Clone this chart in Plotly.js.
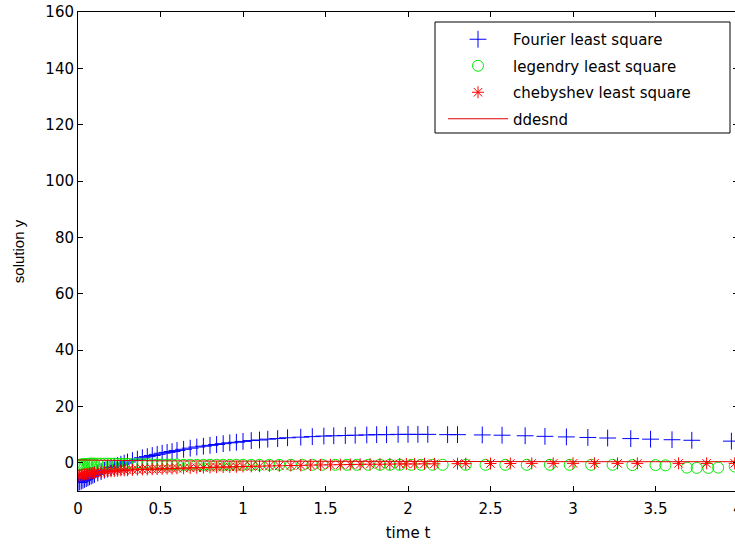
<!DOCTYPE html>
<html>
<head>
<meta charset="utf-8">
<script src="https://cdn.plot.ly/plotly-3.0.1.min.js"></script>
<style>
html, body { margin: 0; padding: 0; overflow: hidden; background: #fff; }
#chart { width: 745px; height: 544px; }
</style>
</head>
<body>
<div id="chart"></div>
<script>
// ---- data ----
const seriesNames = ["Fourier least square", "legendry least square", "chebyshev least square", "ddesnd"];

const fourierT = [0.00,0.01,0.02,0.03,0.04,0.05,0.06,0.07,0.08,0.09,0.10,0.12,0.14,0.16,0.18,0.20,0.22,0.24,0.26,0.28,0.30,0.33,0.36,0.39,0.42,0.45,0.48,0.51,0.54,0.57,0.60,0.64,0.68,0.72,0.76,0.80,0.84,0.88,0.92,0.96,1.00,1.05,1.10,1.15,1.21,1.27,1.35,1.42,1.49,1.55,1.62,1.68,1.75,1.81,1.87,1.94,2.00,2.06,2.12,2.24,2.30,2.45,2.57,2.71,2.83,2.96,3.09,3.21,3.35,3.47,3.60,3.72,3.96];
const fourierY = [-7.0,-6.8,-6.5,-6.2,-5.9,-5.6,-5.3,-5.0,-4.7,-4.4,-4.1,-3.6,-3.1,-2.6,-2.1,-1.7,-1.3,-0.9,-0.5,-0.1,0.3,0.8,1.3,1.8,2.2,2.6,3.0,3.4,3.7,4.0,4.4,4.8,5.2,5.6,5.9,6.2,6.5,6.8,7.1,7.3,7.6,7.9,8.1,8.4,8.6,8.9,9.1,9.3,9.5,9.6,9.7,9.8,9.9,10.0,10.0,10.1,10.1,10.1,10.1,10.0,10.0,9.9,9.8,9.6,9.4,9.2,9.0,8.8,8.6,8.4,8.2,8.0,7.7];

const legendreT = [0.00,0.01,0.02,0.03,0.04,0.05,0.06,0.07,0.08,0.09,0.10,0.12,0.14,0.16,0.18,0.20,0.22,0.24,0.26,0.28,0.30,0.33,0.36,0.39,0.42,0.45,0.48,0.51,0.54,0.57,0.60,0.64,0.68,0.72,0.76,0.80,0.84,0.88,0.92,0.96,1.00,1.05,1.10,1.16,1.22,1.29,1.36,1.42,1.48,1.56,1.63,1.69,1.76,1.83,1.89,1.95,2.02,2.08,2.15,2.21,2.35,2.47,2.59,2.72,2.86,2.98,3.11,3.24,3.36,3.50,3.56,3.69,3.75,3.82,3.88,3.98];
const legendreY = [-0.8,-0.7,-0.6,-0.5,-0.5,-0.4,-0.4,-0.3,-0.3,-0.3,-0.3,-0.3,-0.3,-0.3,-0.3,-0.3,-0.3,-0.4,-0.4,-0.4,-0.4,-0.5,-0.5,-0.5,-0.5,-0.6,-0.6,-0.6,-0.6,-0.6,-0.6,-0.7,-0.7,-0.7,-0.7,-0.7,-0.7,-0.7,-0.7,-0.7,-0.7,-0.7,-0.7,-0.7,-0.7,-0.7,-0.7,-0.7,-0.7,-0.7,-0.7,-0.7,-0.7,-0.7,-0.7,-0.7,-0.7,-0.7,-0.7,-0.7,-0.7,-0.7,-0.7,-0.7,-0.7,-0.7,-0.7,-0.7,-0.8,-0.8,-0.9,-1.7,-1.8,-1.8,-1.7,-1.3];

const chebyshevT = [0.00,0.01,0.02,0.03,0.04,0.05,0.06,0.07,0.08,0.09,0.10,0.12,0.14,0.16,0.18,0.20,0.22,0.24,0.26,0.28,0.30,0.33,0.36,0.39,0.42,0.45,0.48,0.51,0.54,0.57,0.60,0.64,0.68,0.72,0.76,0.80,0.84,0.88,0.92,0.96,1.00,1.05,1.10,1.16,1.22,1.29,1.35,1.41,1.47,1.53,1.59,1.65,1.71,1.77,1.83,1.89,1.95,1.99,2.04,2.10,2.16,2.30,2.35,2.50,2.62,2.75,2.88,3.00,3.13,3.27,3.39,3.64,3.81,3.98];
const chebyshevY = [-4.5,-4.4,-4.3,-4.2,-4.1,-4.0,-3.9,-3.8,-3.7,-3.6,-3.5,-3.4,-3.3,-3.2,-3.1,-3.0,-2.9,-2.8,-2.7,-2.65,-2.6,-2.5,-2.4,-2.35,-2.3,-2.25,-2.2,-2.1,-2.05,-2.0,-1.95,-1.9,-1.8,-1.75,-1.7,-1.6,-1.55,-1.5,-1.45,-1.4,-1.3,-1.25,-1.2,-1.1,-1.05,-0.95,-0.9,-0.8,-0.75,-0.7,-0.65,-0.6,-0.55,-0.5,-0.5,-0.45,-0.4,-0.4,-0.4,-0.35,-0.35,-0.3,-0.3,-0.25,-0.25,-0.2,-0.2,-0.2,-0.2,-0.2,-0.2,-0.2,-0.2,-0.2];

const ddesndT = [0, 0.1, 0.2, 0.5, 1.0, 1.5, 2.0, 2.5, 3.0, 3.5, 4.0];
const ddesndY = [1.0, 0.9, 0.8, 0.7, 0.6, 0.5, 0.5, 0.45, 0.4, 0.4, 0.4];

const xTicks = [0, 0.5, 1, 1.5, 2, 2.5, 3, 3.5, 4];
const xTickText = ["0", "0.5", "1", "1.5", "2", "2.5", "3", "3.5", "4"];
const yTicks = [0, 20, 40, 60, 80, 100, 120, 140, 160];
const yTickText = ["0", "20", "40", "60", "80", "100", "120", "140", "160"];

// ---- traces ----
const traces = [
  {
    x: fourierT, y: fourierY, name: seriesNames[0], type: "scatter", mode: "markers",
    legendgroup: "a",
    marker: { symbol: "cross-thin-open", size: 12, color: "blue", line: { color: "blue", width: 1 } }
  },
  {
    x: legendreT, y: legendreY, name: seriesNames[1], type: "scatter", mode: "markers",
    legendgroup: "b",
    marker: { symbol: "circle-open", size: 11, color: "#00ee00", line: { color: "#00ee00", width: 1 } }
  },
  {
    x: chebyshevT, y: chebyshevY, name: seriesNames[2], type: "scatter", mode: "markers",
    legendgroup: "c",
    marker: { symbol: "asterisk-open", size: 10, color: "red", line: { color: "red", width: 1 } }
  },
  {
    x: ddesndT, y: ddesndY, name: seriesNames[3], type: "scatter", mode: "lines",
    legendgroup: "d",
    line: { color: "#e00000", width: 1 }
  }
];

const tickFont = { family: "DejaVu Sans, Liberation Sans, Arial, sans-serif", size: 15, color: "#000" };

// legend frame in pixels -> paper fractions (plot area 78..738 x 12..491)
const plotL = 78, plotR = 738, plotT = 12, plotB = 491;
const px2x = p => (p - plotL) / (plotR - plotL);
const px2y = p => (plotB - p) / (plotB - plotT);

const layout = {
  width: 745,
  height: 544,
  margin: { l: 78, r: 7, t: 12, b: 53 },
  paper_bgcolor: "#fff",
  plot_bgcolor: "#fff",
  showlegend: true,
  xaxis: {
    range: [0, 4],
    tickvals: xTicks, ticktext: xTickText,
    ticks: "inside", ticklen: 5, tickcolor: "#000", tickwidth: 1,
    showline: true, linecolor: "#000", linewidth: 1, mirror: "ticks",
    showgrid: false, zeroline: false,
    tickfont: tickFont,
    ticklabelstandoff: 4,
    title: { text: "time t", font: { family: "DejaVu Sans, Liberation Sans, Arial, sans-serif", size: 15, color: "#000" }, standoff: 10 }
  },
  yaxis: {
    range: [-10, 160],
    tickvals: yTicks, ticktext: yTickText,
    ticks: "inside", ticklen: 5, tickcolor: "#000", tickwidth: 1,
    showline: true, linecolor: "#000", linewidth: 1, mirror: "ticks",
    showgrid: false, zeroline: false,
    tickfont: tickFont,
    title: { text: "solution y", font: { family: "Liberation Sans, Arial, sans-serif", size: 15, color: "#000" }, standoff: 17 }
  },
  shapes: [{
    type: "rect", xref: "paper", yref: "paper",
    x0: px2x(435), x1: px2x(730), y0: px2y(133), y1: px2y(22),
    line: { color: "#000", width: 1 }, fillcolor: "#fff", layer: "above"
  }],
  legend: {
    x: px2x(443), y: px2y(23), xanchor: "left", yanchor: "top",
    bgcolor: "rgba(0,0,0,0)", borderwidth: 0,
    font: { family: "DejaVu Sans, Liberation Sans, Arial, sans-serif", size: 15, color: "#000" },
    itemwidth: 60,
    traceorder: "grouped",
    tracegroupgap: 4
  }
};

Plotly.newPlot("chart", traces, layout, { displayModeBar: false, staticPlot: true });
</script>
</body>
</html>
